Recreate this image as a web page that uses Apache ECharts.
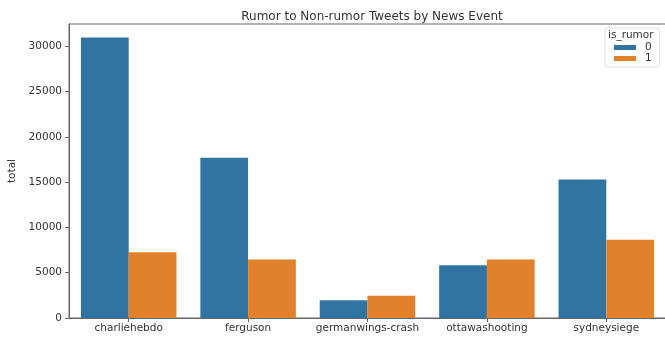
<!DOCTYPE html>
<html>
<head>
<meta charset="utf-8">
<title>Rumor to Non-rumor Tweets by News Event</title>
<script src="https://cdn.jsdelivr.net/npm/echarts@6/dist/echarts.min.js"></script>
<style>
  html, body { margin: 0; padding: 0; background: #fff; }
  #chart { width: 665px; height: 339px; }
</style>
</head>
<body>
<div id="chart"></div>
<script>
// Tweet totals per news event, split by the is_rumor flag
const events = ['charliehebdo', 'ferguson', 'germanwings-crash', 'ottawashooting', 'sydneysiege'];
const nonRumor = [30960, 17700, 1970, 5830, 15300]; // is_rumor = 0
const rumor = [7270, 6460, 2450, 6460, 8640];       // is_rumor = 1
const yTicks = [0, 5000, 10000, 15000, 20000, 25000, 30000];

const FONT = 'DejaVu Sans';
const TEXT = '#333';
const SPINE = '#666';

const chart = echarts.init(document.getElementById('chart'), null, { renderer: 'canvas' });

chart.setOption({
  animation: false,
  backgroundColor: '#fff',
  textStyle: { fontFamily: FONT },
  title: {
    text: 'Rumor to Non-rumor Tweets by News Event',
    left: 367, textAlign: 'center',
    top: 6,
    textStyle: { fontFamily: FONT, fontSize: 12, fontWeight: 'normal', color: TEXT }
  },
  grid: {
    left: 69, right: -1, top: 24, bottom: 21,
    outerBoundsMode: 'none',
    containLabel: false,
    show: true, borderColor: SPINE, borderWidth: 1, backgroundColor: 'transparent'
  },
  legend: {
    orient: 'vertical',
    left: 605, top: 28,
    padding: [14, 8, 3, 9],
    itemWidth: 22, itemHeight: 5, itemGap: 0,
    icon: 'rect',
    borderColor: '#ddd', borderWidth: 1, borderRadius: 3,
    backgroundColor: 'rgba(255,255,255,0.8)',
    textStyle: { fontFamily: FONT, fontSize: 10.5, color: TEXT, lineHeight: 10, padding: [0, 0, 0, 4] },
    data: ['0', '1']
  },
  graphic: [{
    type: 'text',
    left: 608, top: 30,
    z: 100,
    style: { text: 'is_rumor', font: '10.5px "DejaVu Sans"', fill: TEXT }
  }],
  xAxis: {
    type: 'category',
    data: events,
    boundaryGap: true,
    name: 'event',
    nameLocation: 'middle',
    nameGap: 16,
    nameTextStyle: { fontFamily: FONT, fontSize: 10.5, color: TEXT },
    axisLine: { show: true, lineStyle: { color: SPINE, width: 1 } },
    axisTick: { show: true, alignWithLabel: true, length: 4, lineStyle: { color: SPINE } },
    axisLabel: { interval: 0, margin: 5, fontFamily: FONT, fontSize: 10.5, color: TEXT },
    splitLine: { show: false }
  },
  yAxis: {
    type: 'value',
    min: 0, max: 32450, interval: 5000,
    name: 'total',
    nameLocation: 'middle',
    nameGap: 48,
    nameTextStyle: { fontFamily: FONT, fontSize: 10.5, color: TEXT },
    axisLine: { show: true, lineStyle: { color: SPINE, width: 1 } },
    axisTick: { show: true, length: 4, lineStyle: { color: SPINE }, customValues: yTicks },
    axisLabel: {
      margin: 7, fontFamily: FONT, fontSize: 10.5, color: TEXT, customValues: yTicks,
      formatter: v => String(v)
    },
    splitLine: { show: false }
  },
  series: [
    {
      name: '0', type: 'bar', data: nonRumor,
      barWidth: '40%', barGap: '0%',
      itemStyle: { color: '#3274a1' }
    },
    {
      name: '1', type: 'bar', data: rumor,
      barWidth: '40%', barGap: '0%',
      itemStyle: { color: '#e1812c' }
    }
  ]
});
</script>
</body>
</html>
